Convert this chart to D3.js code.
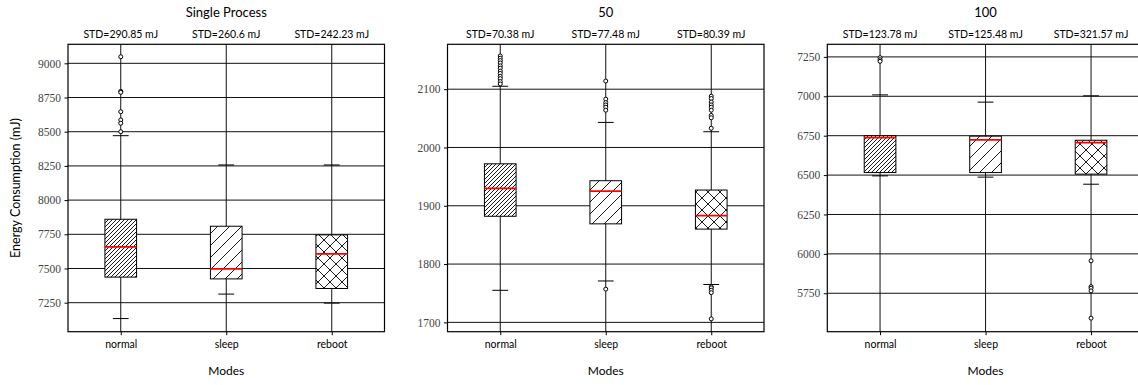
<!DOCTYPE html>
<html>
<head>
<meta charset="utf-8">
<script src="https://cdn.jsdelivr.net/npm/d3@7"></script>
<style>
  body { margin: 0; background: #fff; }
  svg { display: block; }
</style>
</head>
<body>
<div id="chart"></div>
<script>
// data

const modes = ["normal", "sleep", "reboot"];
const panelTitles = ["Single Process", "50", "100"];

// std labels above each box
const singleStd = ["STD=290.85 mJ", "STD=260.6 mJ", "STD=242.23 mJ"];
const fiftyStd = ["STD=70.38 mJ", "STD=77.48 mJ", "STD=80.39 mJ"];
const hundredStd = ["STD=123.78 mJ", "STD=125.48 mJ", "STD=321.57 mJ"];

// [whisker low, q1, median, q3, whisker high] per mode
const singleStats = [
  [7134, 7437, 7658, 7860, 8471],
  [7313, 7424, 7497, 7809, 8257],
  [7247, 7354, 7607, 7746, 8257]
];
const fiftyStats = [
  [1755, 1882, 1930, 1972, 2105],
  [1771, 1869, 1925, 1943, 2043],
  [1765, 1860, 1883, 1927, 2027]
];
const hundredStats = [
  [6495, 6516, 6738, 6750, 7009],
  [6487, 6516, 6723, 6747, 6963],
  [6442, 6506, 6706, 6721, 7003]
];

// outliers per mode
const singleFliers = [
  [9048, 8795, 8788, 8646, 8586, 8562, 8500],
  [],
  []
];
const fiftyFliers = [
  [2157, 2153, 2149, 2145, 2140, 2136, 2131, 2127, 2122, 2118, 2113, 2109],
  [2114, 2083, 2077, 2073, 2069, 2064, 1757],
  [2088, 2084, 2078, 2073, 2069, 2064, 2055, 2051, 2033, 1761, 1759, 1755, 1751, 1706]
];
const hundredFliers = [
  [7245, 7232, 7222],
  [],
  [5956, 5792, 5782, 5765, 5592]
];

// y extents and ticks
const singleDomain = [7038, 9139];
const fiftyDomain = [1684, 2177];
const hundredDomain = [5506, 7330];
const singleTicks = [7250, 7500, 7750, 8000, 8250, 8500, 8750, 9000];
const fiftyTicks = [1700, 1800, 1900, 2000, 2100];
const hundredTicks = [5750, 6000, 6250, 6500, 6750, 7000, 7250];

const hatches = ["dense", "sparse", "cross"];

/////////////////////////////////////////////////////////////////////

const width = 1138;
const height = 385;
const plotTop = 44.3;
const plotBottom = 331.7;
const plotWidth = 316.5;
const boxWidth = 0.3;   // in category steps
const sans = "Lato, 'Open Sans', sans-serif";
const serif = "'Liberation Serif', 'DejaVu Serif', serif";

const panels = [
  { title: panelTitles[0], std: singleStd, stats: singleStats, fliers: singleFliers,
    domain: singleDomain, ticks: singleTicks, left: 68 },
  { title: panelTitles[1], std: fiftyStd, stats: fiftyStats, fliers: fiftyFliers,
    domain: fiftyDomain, ticks: fiftyTicks, left: 447.5 },
  { title: panelTitles[2], std: hundredStd, stats: hundredStats, fliers: hundredFliers,
    domain: hundredDomain, ticks: hundredTicks, left: 827.3 }
];

const svg = d3.select("#chart").append("svg")
  .attr("width", width)
  .attr("height", height);

// hatch patterns
const defs = svg.append("defs");
function addHatch(id, size, cross) {
  let d = `M0,${size} L${size},0 M${-size / 4},${size / 4} L${size / 4},${-size / 4} M${size * 3 / 4},${size * 5 / 4} L${size * 5 / 4},${size * 3 / 4}`;
  if (cross) {
    d += ` M0,0 L${size},${size} M${-size / 4},${size * 3 / 4} L${size / 4},${size * 5 / 4} M${size * 3 / 4},${-size / 4} L${size * 5 / 4},${size / 4}`;
  }
  defs.append("pattern")
    .attr("id", id)
    .attr("patternUnits", "userSpaceOnUse")
    .attr("width", size)
    .attr("height", size)
    .append("path")
    .attr("d", d)
    .attr("stroke", "#000")
    .attr("stroke-width", 0.9)
    .attr("fill", "none");
}
addHatch("dense", 4, false);
addHatch("sparse", 12, false);
addHatch("cross", 12, true);

panels.forEach(function(p, pi) {
  const right = p.left + plotWidth;

  const x = d3.scalePoint()
    .domain(modes)
    .range([p.left, right])
    .padding(0.5);
  const step = x.step();

  const y = d3.scaleLinear()
    .domain(p.domain)
    .range([plotBottom, plotTop]);

  const g = svg.append("g");

  // grid
  g.append("g").selectAll("line")
    .data(p.ticks)
    .enter()
    .append("line")
    .attr("x1", p.left).attr("x2", right)
    .attr("y1", d => y(d)).attr("y2", d => y(d))
    .attr("stroke", "#111").attr("stroke-width", 1);

  g.append("g").selectAll("line")
    .data(modes)
    .enter()
    .append("line")
    .attr("x1", d => x(d)).attr("x2", d => x(d))
    .attr("y1", plotTop).attr("y2", plotBottom)
    .attr("stroke", "#111").attr("stroke-width", 1);

  // boxes
  const boxes = g.append("g").selectAll("g")
    .data(p.stats)
    .enter()
    .append("g");

  const bw = boxWidth * step;

  boxes.append("rect")
    .attr("x", (d, i) => x(modes[i]) - bw / 2)
    .attr("y", d => y(d[3]))
    .attr("width", bw)
    .attr("height", d => y(d[1]) - y(d[3]))
    .attr("fill", "#fff");

  boxes.append("rect")
    .attr("x", (d, i) => x(modes[i]) - bw / 2)
    .attr("y", d => y(d[3]))
    .attr("width", bw)
    .attr("height", d => y(d[1]) - y(d[3]))
    .attr("fill", (d, i) => `url(#${hatches[i]})`)
    .attr("stroke", "#000")
    .attr("stroke-width", 1);

  // whisker caps
  [0, 4].forEach(function(k) {
    boxes.append("line")
      .attr("x1", (d, i) => x(modes[i]) - bw / 4)
      .attr("x2", (d, i) => x(modes[i]) + bw / 4)
      .attr("y1", d => y(d[k]))
      .attr("y2", d => y(d[k]))
      .attr("stroke", "#000")
      .attr("stroke-width", 1);
  });

  // medians
  boxes.append("line")
    .attr("x1", (d, i) => x(modes[i]) - bw / 2)
    .attr("x2", (d, i) => x(modes[i]) + bw / 2)
    .attr("y1", d => y(d[2]))
    .attr("y2", d => y(d[2]))
    .attr("stroke", "#ff0000")
    .attr("stroke-width", 1.8);

  // fliers
  p.fliers.forEach(function(list, i) {
    g.append("g").selectAll("circle")
      .data(list)
      .enter()
      .append("circle")
      .attr("cx", x(modes[i]))
      .attr("cy", d => y(d))
      .attr("r", 2)
      .attr("fill", "#fff")
      .attr("stroke", "#000")
      .attr("stroke-width", 1);
  });

  // axes
  const yAxis = g.append("g")
    .attr("transform", `translate(${p.left},0)`)
    .call(d3.axisLeft(y).tickValues(p.ticks).tickSize(3.5).tickPadding(3.5).tickFormat(d3.format("d")));
  yAxis.select(".domain").remove();
  yAxis.selectAll("text")
    .style("font-family", serif)
    .style("font-size", "11.5px")
    .attr("fill", "#444");

  const xAxis = g.append("g")
    .attr("transform", `translate(0,${plotBottom})`)
    .call(d3.axisBottom(x).tickSize(3.5).tickPadding(5));
  xAxis.select(".domain").remove();
  xAxis.selectAll("text")
    .style("font-family", sans)
    .style("font-size", "10.5px")
    .attr("fill", "#000");

  // frame
  g.append("rect")
    .attr("x", p.left).attr("y", plotTop)
    .attr("width", plotWidth).attr("height", plotBottom - plotTop)
    .attr("fill", "none")
    .attr("stroke", "#000")
    .attr("stroke-width", 1.2);

  // std labels
  g.append("g").selectAll("text")
    .data(p.std)
    .enter()
    .append("text")
    .style("font-family", sans)
    .style("font-size", "10.5px")
    .attr("x", (d, i) => x(modes[i]))
    .attr("y", 38)
    .attr("text-anchor", "middle")
    .text(d => d);

  // title
  g.append("text")
    .style("font-family", sans)
    .style("font-size", "13px")
    .attr("x", (p.left + right) / 2)
    .attr("y", 17)
    .attr("text-anchor", "middle")
    .text(p.title);

  g.append("text")
    .style("font-family", sans)
    .style("font-size", "12px")
    .attr("x", (p.left + right) / 2)
    .attr("y", 375)
    .attr("text-anchor", "middle")
    .text("Modes");
});

svg.append("text")
  .style("font-family", sans)
  .style("font-size", "12.5px")
  .attr("transform", `translate(20,${(plotTop + plotBottom) / 2}) rotate(-90)`)
  .attr("text-anchor", "middle")
  .text("Energy Consumption (mJ)");
</script>
</body>
</html>
